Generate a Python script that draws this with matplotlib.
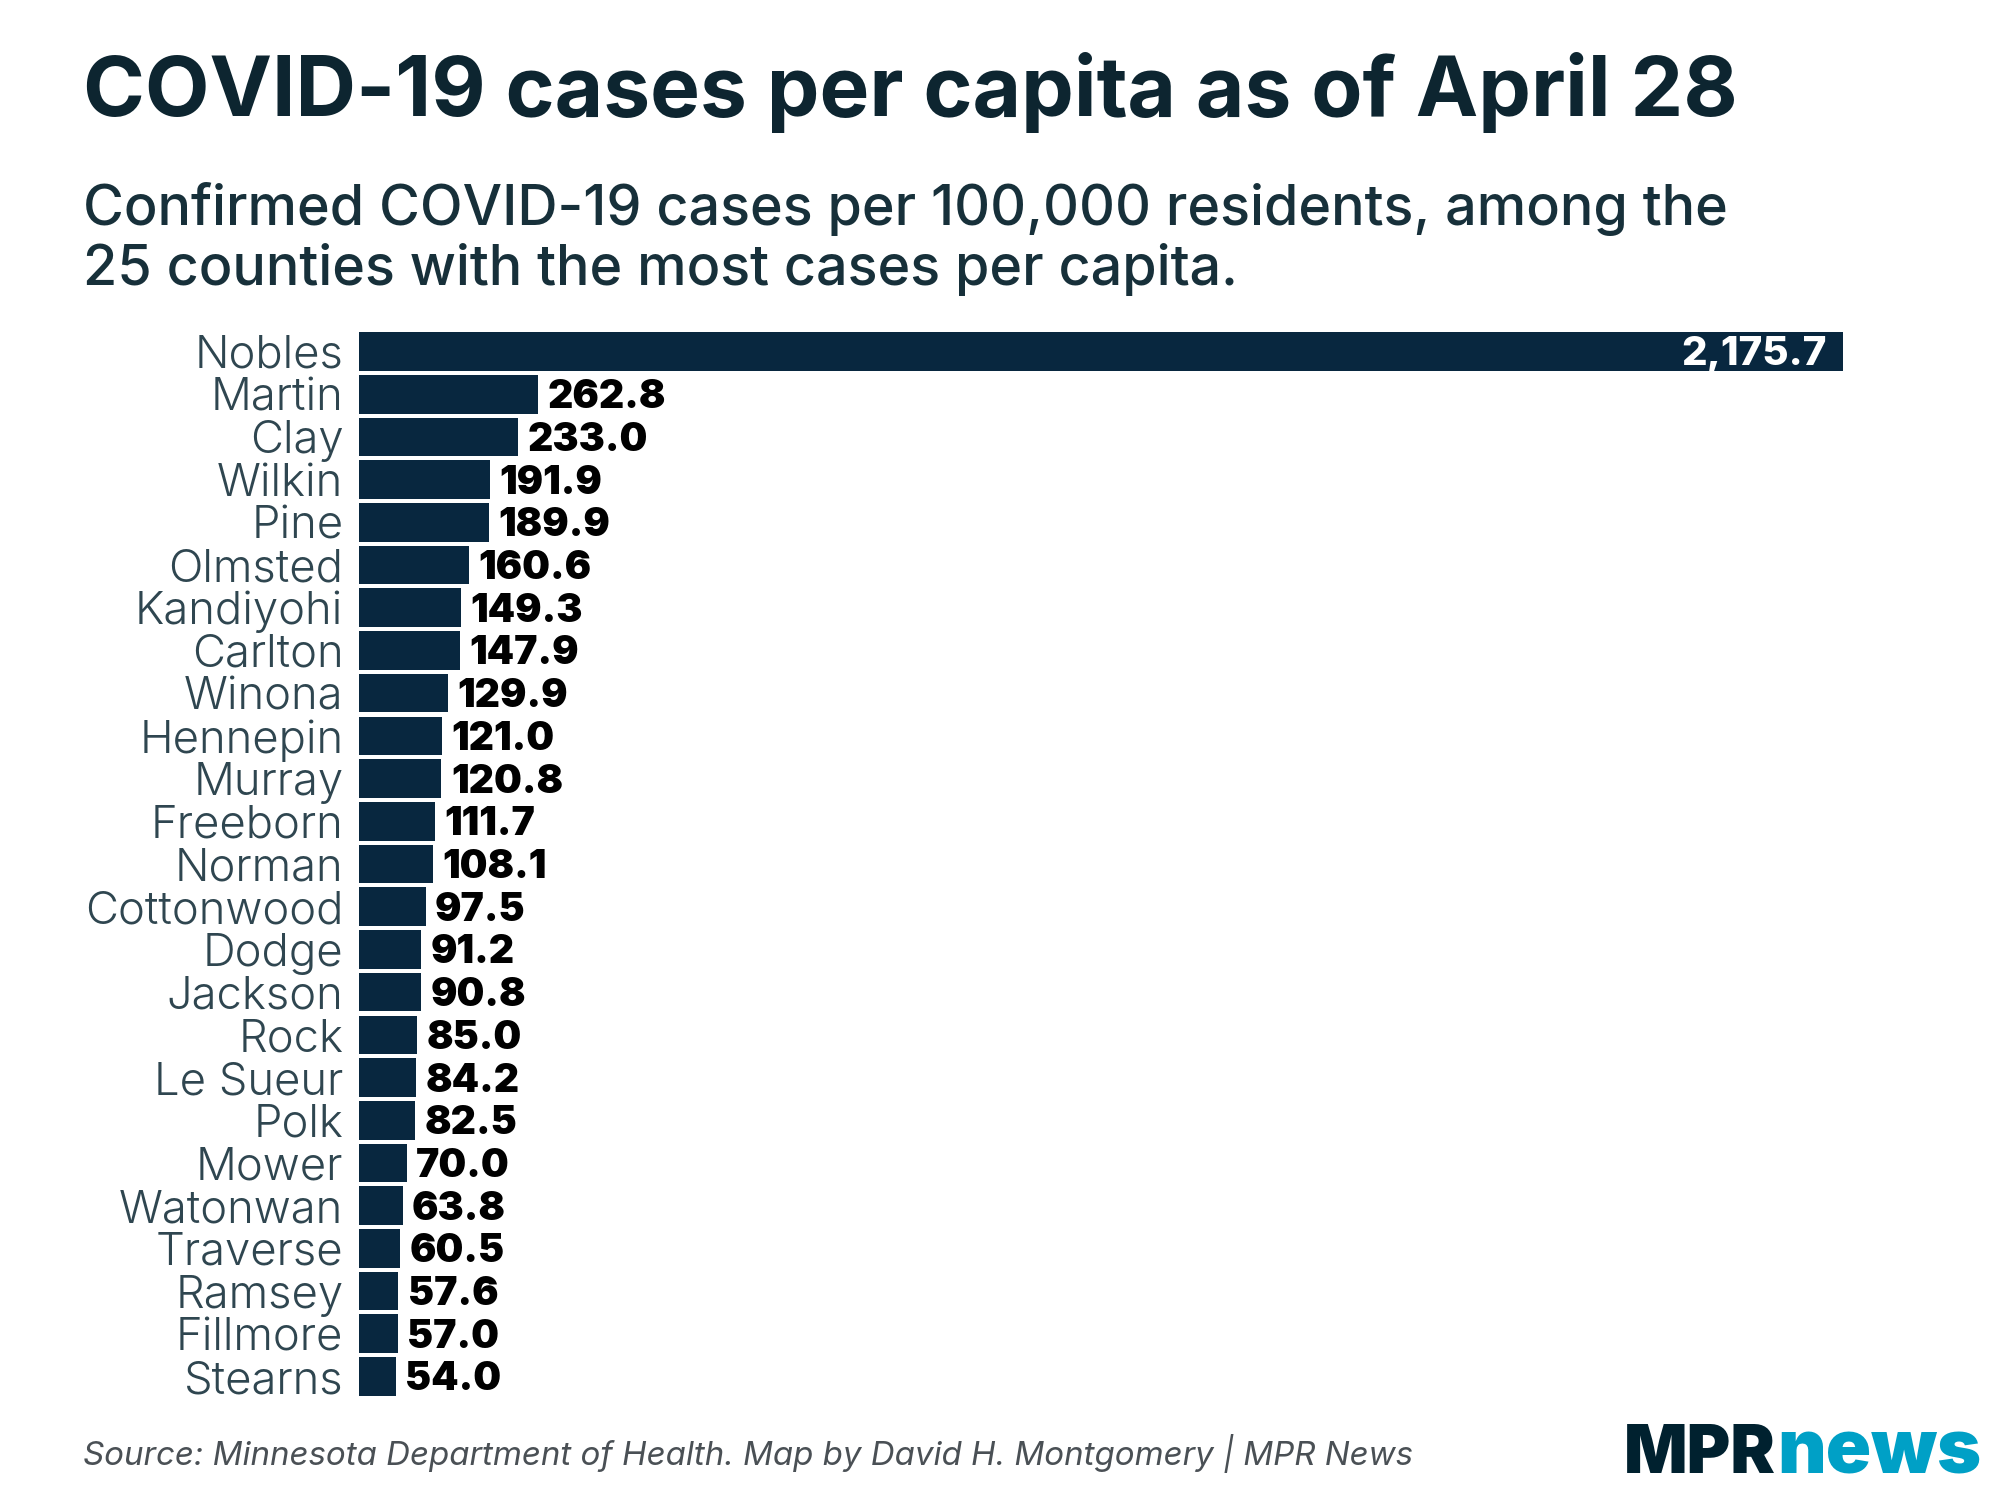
import matplotlib
matplotlib.use("Agg")
import matplotlib.pyplot as plt

counties = ["Nobles","Martin","Clay","Wilkin","Pine","Olmsted","Kandiyohi","Carlton","Winona","Hennepin",
            "Murray","Freeborn","Norman","Cottonwood","Dodge","Jackson","Rock","Le Sueur","Polk","Mower",
            "Watonwan","Traverse","Ramsey","Fillmore","Stearns"]
values = [2175.7,262.8,233.0,191.9,189.9,160.6,149.3,147.9,129.9,121.0,
          120.8,111.7,108.1,97.5,91.2,90.8,85.0,84.2,82.5,70.0,
          63.8,60.5,57.6,57.0,54.0]

W, H = 2000, 1500
plt.rcParams['font.family'] = ['Inter', 'DejaVu Sans']
fig = plt.figure(figsize=(W/100, H/100), dpi=100, facecolor='white')

def px(x, y):
    return x/W, 1-y/H

L, R, T, B = 359, 1843, 332, 1396
ax = fig.add_axes([L/W, 1-B/H, (R-L)/W, (B-T)/H])
ypos = list(range(len(counties)))
ax.barh(ypos, values, height=0.905, color='#08273f')
ax.set_xlim(0, max(values))
ax.set_ylim(24.456, -0.456)
ax.set_yticks(ypos, counties)
ax.tick_params(axis='y', length=0, pad=11.3, labelsize=32.7, labelcolor='#2f4650')
ax.set_xticks([])
for s in ax.spines.values():
    s.set_visible(False)
for lab in ax.get_yticklabels():
    lab.set_fontweight(300)

for i, v in enumerate(values):
    txt = f"{v:,.1f}"
    if i == 0:
        ax.annotate(txt, (v, i), xytext=(-11.5, -2.5), textcoords='offset points', ha='right', va='center',
                    color='white', fontsize=29, fontweight=800)
    else:
        ax.annotate(txt, (v, i), xytext=(6.8, -2.5), textcoords='offset points', ha='left', va='center',
                    color='black', fontsize=28.2, fontweight=900)

x, y = px(83, 116)
fig.text(x, y, "COVID-19 cases per capita as of April 28", fontsize=60.3, fontweight='bold', color='#0d2530', va='baseline')
x, y = px(83, 225)
fig.text(x, y, "Confirmed COVID-19 cases per 100,000 residents, among the", fontsize=40.1, fontweight=500, color='#17303a', va='baseline')
x, y = px(83, 285)
fig.text(x, y, "25 counties with the most cases per capita.", fontsize=40.1, fontweight=500, color='#17303a', va='baseline')
x, y = px(83, 1465)
fig.text(x, y, "Source: Minnesota Department of Health. Map by David H. Montgomery | MPR News", fontsize=23.8,
         style='italic', color='#4a5055', va='baseline')
x, y = px(1624, 1473)
fig.text(x, y, "MPR", fontsize=47.9, fontweight=900, color='#00212f', va='baseline')
x, y = px(1777, 1473)
fig.text(x, y, "news", fontsize=54, fontweight=900, color='#00a0c6', va='baseline')

fig.savefig("out.png", dpi=100)
